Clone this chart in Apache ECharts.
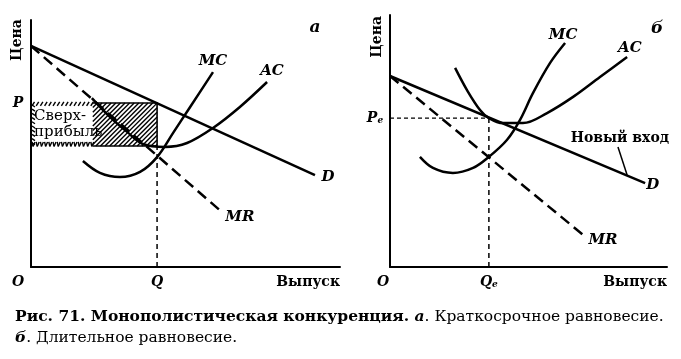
<!DOCTYPE html>
<html><head><meta charset="utf-8">
<script src="https://cdn.jsdelivr.net/npm/echarts@6/dist/echarts.min.js"></script>
<style>html,body{margin:0;padding:0;background:#fff}#c{width:681px;height:359px}</style>
</head><body><div id="c"></div>
<script>
// ---- Panel a (short run) ----
const A_D  = [[0, 89.5], [91.9, 37.2]];
const A_MR = [[0, 89.5], [62.1, 21.9]];
const A_MC = [[16.8, 42.9], [22.3, 38.1], [28.8, 36.4], [35.3, 38.5], [40.8, 44.5], [46.0, 54.3], [51.5, 64.8], [58.9, 78.9]];
const A_AC = [[19.7, 68.4], [25.6, 60.7], [31.1, 54.7], [36.2, 49.8], [43.4, 48.6], [50.5, 50.2], [58.9, 56.3], [67.6, 64.8], [76.4, 74.9]];
const A_Q = 40.8, A_P = 66.4, A_ATC = 49.0, A_HATCH_FROM = 20.0;
const A_LABELS = [
  ['MC', 58.9, 83.4], ['AC', 78.0, 79.4], ['D', 96.1, 36.4], ['MR', 67.6, 20.2]
];
// ---- Panel б (long run) ----
const B_D  = [[0, 75.8], [92.1, 33.3]];
const B_MR = [[0, 75.8], [71.1, 11.5]];
const B_MC = [[10.8, 43.7], [15.5, 39.3], [22.7, 37.3], [30.0, 39.3], [35.7, 43.7], [42.2, 50.4], [46.9, 58.3], [51.6, 69.0], [57.8, 81.0], [63.2, 88.9]];
const B_AC = [[23.5, 79.0], [27.8, 70.2], [32.5, 62.3], [35.7, 59.1], [40.8, 57.1], [48.0, 57.1], [56.7, 61.1], [66.1, 67.5], [75.8, 75.4], [85.6, 83.3]];
const B_Q = 35.7, B_P = 59.1;
const B_LABELS = [
  ['MC', 62.5, 92.1], ['AC', 86.6, 86.9], ['D', 94.9, 32.5], ['MR', 76.9, 10.7]
];
const B_ENTRY_LEADER = [[82.3, 47.6], [85.6, 36.5]];
const B_ENTRY_LABEL = ['Новый вход', 83.0, 51.2];
const AXIS_Y_NAME = 'Цена', AXIS_X_NAME = 'Выпуск';
const PROFIT_TEXT = [['Сверх-', 1.0, 60.9], ['прибыль', 1.0, 54.7]];
const CAPTION1 = ['Рис. 71. Монополистическая конкуренция. ', 'а', '. Краткосрочное равновесие.'];
const CAPTION2 = ['б', '. Длительное равновесие.'];

const SERIF = '"DejaVu Serif", "Liberation Serif", serif';
const INK = '#000';
const chart = echarts.init(document.getElementById('c'), null, {renderer: 'canvas'});

function axes(i) {
  return [{
    type: 'value', gridIndex: i, min: 0, max: 100,
    axisLine: {show: true, onZero: false, lineStyle: {color: INK, width: 2}},
    axisTick: {show: false}, axisLabel: {show: false}, splitLine: {show: false}
  }];
}
const xAxes = axes(0).concat(axes(1));
const yAxes = axes(0).concat(axes(1));

function curve(data, i, opts) {
  return Object.assign({
    type: 'line', xAxisIndex: i, yAxisIndex: i, data: data, symbol: 'none', silent: true,
    lineStyle: {color: INK, width: 2.5}, z: 3
  }, opts || {});
}
function baseLabel(style) {
  return Object.assign({show: true, position: 'inside', formatter: '{b}', color: INK, opacity: 1,
    textBorderWidth: 0, fontFamily: SERIF, fontSize: 15, fontStyle: 'italic', fontWeight: 'bold'}, style || {});
}
function labelSeries(i, items, style) {
  return {
    type: 'scatter', xAxisIndex: i, yAxisIndex: i, symbolSize: 0, silent: true, z: 10, clip: false,
    itemStyle: {opacity: 1},
    data: items.map(function (it) { return {value: [it[1], it[2]], name: it[0]}; }),
    label: baseLabel(style)
  };
}
function pointLabel(i, x, y, text, style) {
  return labelSeries(i, [[text, x, y]], Object.assign({fontSize: 14}, style || {}));
}

// hatched excess-profit rectangle (panel a)
const profitSeries = {
  type: 'custom', xAxisIndex: 0, yAxisIndex: 0, silent: true, z: 2,
  data: [[0, A_ATC, A_Q, A_P, A_HATCH_FROM]],
  renderItem: function (params, api) {
    const tl = api.coord([api.value(0), api.value(3)]);
    const br = api.coord([api.value(2), api.value(1)]);
    const sx = api.coord([api.value(4), api.value(3)])[0];
    const x0 = tl[0], y0 = tl[1], x1 = br[0], y1 = br[1];
    const children = [];
    const st = {stroke: INK, lineWidth: 1.4};
    for (let c = sx + y0; c < x1 + y1 + 6; c += 4.6) {
      const xa = Math.max(sx, c - y1), xb = Math.min(x1, c - y0);
      if (xb > xa) children.push({type: 'line', shape: {x1: xa, y1: c - xa, x2: xb, y2: c - xb}, style: st});
    }
    children.push({type: 'polyline', shape: {points: [[sx, y0], [x1, y0], [x1, y1], [sx, y1]]}, style: {fill: null, stroke: INK, lineWidth: 1.6}});
    const ts = {stroke: INK, lineWidth: 1.4};
    for (let x = x0 + 1; x < sx; x += 4.2) {
      children.push({type: 'line', shape: {x1: x, y1: y0 + 3, x2: x + 2.5, y2: y0 - 1}, style: ts});
      children.push({type: 'line', shape: {x1: x, y1: y1 - 4, x2: x + 1, y2: y1 + 0.5}, style: ts});
      children.push({type: 'line', shape: {x1: x + 1, y1: y1 + 0.5, x2: x + 3, y2: y1 - 4}, style: ts});
    }
    for (let y = y0 + 2; y < y1 - 2; y += 4.2) {
      children.push({type: 'line', shape: {x1: x0 + 1, y1: y, x2: x0 + 4, y2: y + 2}, style: ts});
    }
    return {type: 'group', children: children};
  }
};

const subRich = {
  p: {fontFamily: SERIF, fontSize: 14, fontStyle: 'italic', fontWeight: 'bold', color: INK},
  e: {fontFamily: SERIF, fontSize: 9, fontStyle: 'italic', fontWeight: 'bold', color: INK, verticalAlign: 'bottom', padding: [6, 0, 0, 0]}
};
const uprightBold = {fontStyle: 'normal', fontSize: 14};

const series = [
  profitSeries,
  curve(A_D, 0),
  curve(A_MR, 0, {lineStyle: {color: INK, width: 2.5, type: [11, 6]}}),
  curve(A_MC, 0, {smooth: 0.35}),
  curve(A_AC, 0, {smooth: 0.35}),
  curve([[A_Q, 0], [A_Q, A_ATC]], 0, {lineStyle: {color: INK, width: 1.5, type: [5, 4]}}),
  labelSeries(0, A_LABELS),
  labelSeries(0, PROFIT_TEXT, {position: 'right', distance: 0, fontStyle: 'normal', fontWeight: 'normal', fontSize: 15}),
  pointLabel(0, 0, A_P, 'P', {offset: [-13, 0]}),
  pointLabel(0, 0, 0, 'O', {offset: [-13, 15]}),
  pointLabel(0, A_Q, 0, 'Q', {offset: [0, 15]}),
  pointLabel(0, 100, 0, AXIS_X_NAME, Object.assign({position: 'left', distance: 0, offset: [0, 15]}, uprightBold)),
  pointLabel(0, 0, 91.9, AXIS_Y_NAME, Object.assign({rotate: 90, offset: [0, -14]}, uprightBold)),
  pointLabel(0, 91.9, 96.8, 'a', {fontSize: 17}),

  curve(B_D, 1),
  curve(B_MR, 1, {lineStyle: {color: INK, width: 2.5, type: [11, 6]}}),
  curve(B_MC, 1, {smooth: 0.35}),
  curve(B_AC, 1, {smooth: 0.35}),
  curve([[B_Q, 0], [B_Q, B_P]], 1, {lineStyle: {color: INK, width: 1.5, type: [5, 4]}}),
  curve([[0, B_P], [B_Q, B_P]], 1, {lineStyle: {color: INK, width: 1.3, type: [4, 3]}}),
  curve(B_ENTRY_LEADER, 1, {lineStyle: {color: INK, width: 1.5}}),
  labelSeries(1, B_LABELS),
  labelSeries(1, [B_ENTRY_LABEL], uprightBold),
  pointLabel(1, 0, B_P, '{p|P}{e|e}', {offset: [-15, 0], rich: subRich}),
  pointLabel(1, 0, 0, 'O', {offset: [-7, 15]}),
  pointLabel(1, B_Q, 0, '{p|Q}{e|e}', {offset: [0, 15], rich: subRich}),
  pointLabel(1, 100, 0, AXIS_X_NAME, Object.assign({position: 'left', distance: 0, offset: [0, 15]}, uprightBold)),
  pointLabel(1, 0, 91.3, AXIS_Y_NAME, Object.assign({rotate: 90, offset: [0, -13]}, uprightBold)),
  pointLabel(1, 96.4, 94.8, 'б', {fontSize: 17})
];

chart.setOption({
  animation: false,
  backgroundColor: '#fff',
  grid: [
    {left: 31, top: 20, width: 309, height: 247},
    {left: 390, top: 15, width: 277, height: 252}
  ],
  xAxis: xAxes,
  yAxis: yAxes,
  series: series,
  graphic: [{
    type: 'text', left: 15, top: 309,
    style: {
      text: '{b|' + CAPTION1[0] + '}{bi|' + CAPTION1[1] + '}{r|' + CAPTION1[2] + '}\n{bi|' + CAPTION2[0] + '}{r|' + CAPTION2[1] + '}',
      rich: {
        b: {fontFamily: SERIF, fontSize: 15.5, fontWeight: 'bold', fill: INK, lineHeight: 21},
        bi: {fontFamily: SERIF, fontSize: 15.5, fontWeight: 'bold', fontStyle: 'italic', fill: INK, lineHeight: 21},
        r: {fontFamily: SERIF, fontSize: 15.5, fill: INK, lineHeight: 21}
      }
    }
  }]
});
</script></body></html>
